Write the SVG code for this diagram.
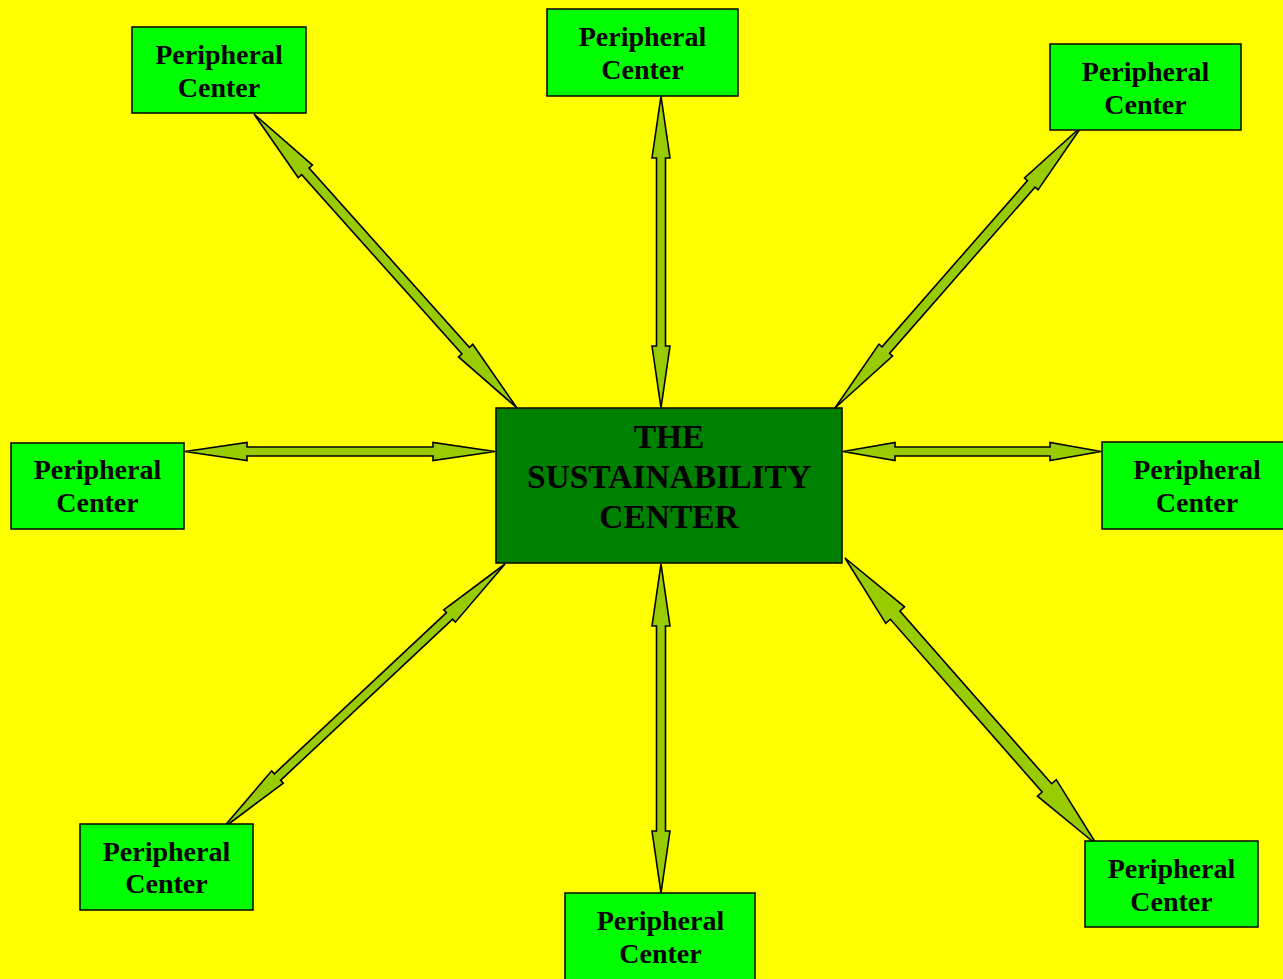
<svg xmlns="http://www.w3.org/2000/svg" width="1283" height="979" viewBox="0 0 1283 979">
<style>
.bg{fill:#FFFF00}
.pc{fill:#00FF00;stroke:#000;stroke-width:1.5}
.cc{fill:#008000;stroke:#000;stroke-width:1.5}
.arr{fill:#99CC00;stroke:#000;stroke-width:1.6;stroke-linejoin:miter}
.t{font-family:"Liberation Serif","Times New Roman",serif;font-weight:bold;font-size:28px;fill:#000;text-anchor:middle}
.tc{font-family:"Liberation Serif","Times New Roman",serif;font-weight:bold;font-size:33.5px;fill:#000;text-anchor:middle}
</style>
<rect class="bg" x="0" y="0" width="1283" height="979"/>
<g id="connectors">
<polygon class="arr" points="254,114 298.26,177.72 301.62,174.72 461.94,353.94 458.58,356.94 517,408 472.74,344.28 469.38,347.28 309.06,168.06 312.42,165.06"/>
<polygon class="arr" points="661,96 652,158 656.5,158 656.5,346 652,346 661,408 670,346 665.5,346 665.5,158 670,158"/>
<polygon class="arr" points="1082,126 1024.49,177.99 1027.5,180.62 882.0,346.78 878.97,344.15 835,408 892.51,356.01 889.5,353.38 1035.0,187.22 1038.03,189.85"/>
<polygon class="arr" points="185,451.5 247,442.5 247,447 433,447 433,442.5 495,451.5 433,460.5 433,456 247,456 247,460.5"/>
<polygon class="arr" points="843,451.5 895,442.5 895,447 1050,447 1050,442.5 1101,451.5 1050,460.5 1050,456 895,456 895,460.5"/>
<polygon class="arr" points="505,564 443.72,609.75 446.46,612.67 274.4,773.77 271.66,770.85 222,829 283.28,783.25 280.54,780.33 452.6,619.23 455.34,622.15"/>
<polygon class="arr" points="661,564 652,626 656.5,626 656.5,831 652,831 661,893 670,831 665.5,831 665.5,626 670,626"/>
<polygon class="arr" points="845,558 885.75,623.36 890.41,619.27 1042.13,792.05 1037.47,796.14 1097,845 1056.25,779.64 1051.59,783.73 899.87,610.95 904.53,606.86"/>
</g>
<g id="center">
<rect class="cc" x="496" y="408" width="346" height="155"/>
<text class="tc" x="669" y="448">THE</text>
<text class="tc" x="669" y="488">SUSTAINABILITY</text>
<text class="tc" x="669" y="528">CENTER</text>
</g>
<g id="pc-top-left">
<rect class="pc" x="132" y="27" width="174" height="86"/>
<text class="t" x="219" y="63.5">Peripheral</text>
<text class="t" x="219" y="96.5">Center</text>
</g>
<g id="pc-top">
<rect class="pc" x="547" y="9" width="191" height="87"/>
<text class="t" x="642.5" y="45.5">Peripheral</text>
<text class="t" x="642.5" y="78.5">Center</text>
</g>
<g id="pc-top-right">
<rect class="pc" x="1050" y="44" width="191" height="86"/>
<text class="t" x="1145.5" y="81">Peripheral</text>
<text class="t" x="1145.5" y="114">Center</text>
</g>
<g id="pc-left">
<rect class="pc" x="11" y="443" width="173" height="86"/>
<text class="t" x="97.5" y="478.5">Peripheral</text>
<text class="t" x="97.5" y="511.5">Center</text>
</g>
<g id="pc-right">
<rect class="pc" x="1102" y="442" width="190" height="87"/>
<text class="t" x="1197" y="478.5">Peripheral</text>
<text class="t" x="1197" y="511.5">Center</text>
</g>
<g id="pc-bottom-left">
<rect class="pc" x="80" y="824" width="173" height="86"/>
<text class="t" x="166.5" y="860.5">Peripheral</text>
<text class="t" x="166.5" y="893">Center</text>
</g>
<g id="pc-bottom">
<rect class="pc" x="565" y="893" width="190" height="90"/>
<text class="t" x="660.5" y="930">Peripheral</text>
<text class="t" x="660.5" y="963">Center</text>
</g>
<g id="pc-bottom-right">
<rect class="pc" x="1085" y="841" width="173" height="86"/>
<text class="t" x="1171.5" y="877.5">Peripheral</text>
<text class="t" x="1171.5" y="910.5">Center</text>
</g>
</svg>
